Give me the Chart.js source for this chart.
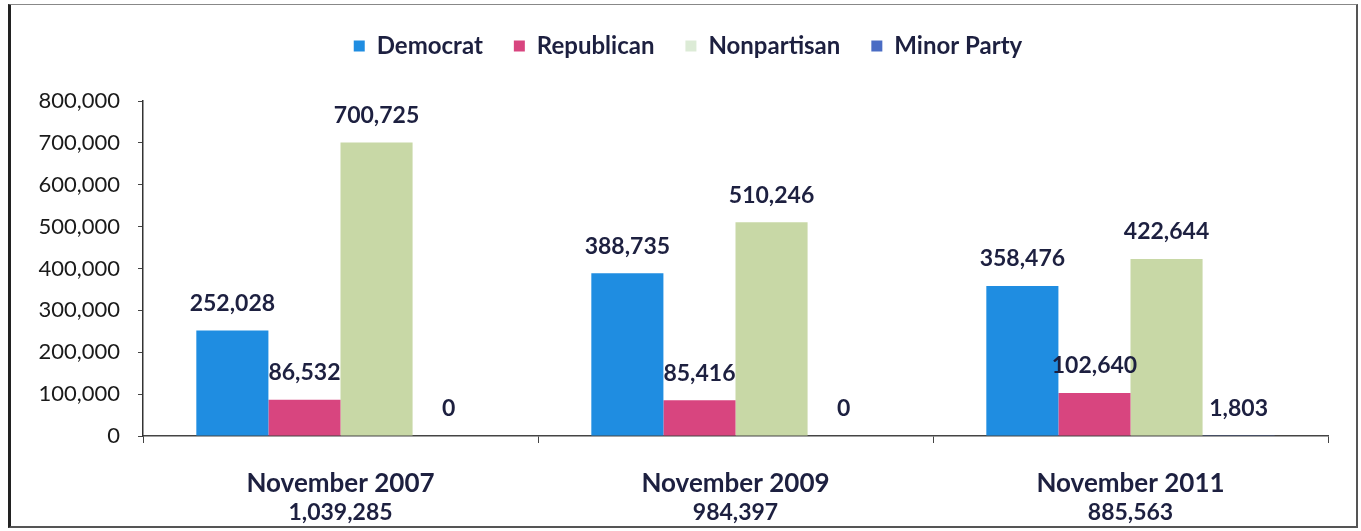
<!DOCTYPE html>
<html>
<head>
<meta charset="utf-8">
<script src="https://cdn.jsdelivr.net/npm/chart.js@4.4.1/dist/chart.umd.min.js"></script>
<style>
  html, body { margin: 0; padding: 0; background: #fff; }
  #wrap { position: relative; width: 1361px; height: 531px; }
  #c { position: absolute; left: 0; top: 0; }
  #frame { position: absolute; left: 8px; top: 4px; width: 1345px; height: 521px;
           border: 2px solid #555; border-left: 3px solid #222; border-top: 1px solid #888;
           pointer-events: none; }
</style>
</head>
<body>
<div id="wrap">
  <canvas id="c" width="1361" height="531"></canvas>
  <div id="frame"></div>
</div>
<script>
const categories = ['November 2007', 'November 2009', 'November 2011'];
const totals = [1039285, 984397, 885563];
const seriesNames = ['Democrat', 'Republican', 'Nonpartisan', 'Minor Party'];
const democrat = [252028, 388735, 358476];
const republican = [86532, 85416, 102640];
const nonpartisan = [700725, 510246, 422644];
const minorParty = [0, 0, 1803];
const yTicks = [0, 100000, 200000, 300000, 400000, 500000, 600000, 700000, 800000];

const colors = ['#1f8de1', '#d8457f', '#c8d8a6', '#4a6cc4'];
const legendColors = ['#1f8de1', '#d8457f', '#dcebd6', '#4a6cc4'];
const textColor = '#1d2040';
const FONT = 'Lato, "Open Sans", sans-serif';
const fmt = v => Number(v).toLocaleString('en-US');

const valueLabels = {
  id: 'valueLabels',
  afterDatasetsDraw(chart) {
    const ctx = chart.ctx;
    ctx.save();
    ctx.font = 'bold 23px ' + FONT;
    ctx.fillStyle = textColor;
    ctx.textAlign = 'center';
    ctx.textBaseline = 'middle';
    chart.data.datasets.forEach((ds, di) => {
      const meta = chart.getDatasetMeta(di);
      meta.data.forEach((el, i) => {
        ctx.fillText(fmt(ds.data[i]), el.x, el.y - 27);
      });
    });
    ctx.restore();
  }
};

const legendSpace = {
  id: 'legendSpace',
  beforeLayout(chart) {
    const lg = chart.legend;
    if (lg && !lg._patched) {
      const f = lg.fit;
      lg.fit = function () { f.call(this); this.height += 33; };
      lg._patched = true;
    }
  },
  afterLayout(chart) {
    const lg = chart.legend;
    if (lg) { lg.left += 24; lg.right += 24; }
  }
};

const datasets = [democrat, republican, nonpartisan, minorParty].map((d, i) => ({
  label: seriesNames[i],
  data: d,
  backgroundColor: colors[i],
  borderWidth: 0,
  categoryPercentage: 0.73,
  barPercentage: 1.0,
  xAxisID: 'x'
}));

new Chart(document.getElementById('c'), {
  type: 'bar',
  data: {
    labels: categories,
    datasets: datasets
  },
  options: {
    responsive: false,
    animation: false,
    devicePixelRatio: 1,
    layout: { padding: { left: 0, right: 33, top: 3, bottom: 0 } },
    plugins: {
      tooltip: { enabled: false },
      legend: {
        position: 'top',
        labels: {
          font: { family: FONT, size: 24, weight: 'bold' },
          color: textColor,
          boxWidth: 11,
          boxHeight: 11,
          padding: 31,
          generateLabels(chart) {
            return chart.data.datasets.map((ds, i) => ({
              text: ds.label,
              fillStyle: legendColors[i],
              strokeStyle: legendColors[i],
              lineWidth: 0,
              fontColor: textColor,
              datasetIndex: i,
              hidden: false
            }));
          }
        }
      }
    },
    scales: {
      x: {
        position: 'bottom',
        afterFit(scale) { scale.height = 63; },
        border: { color: '#444', width: 1.5 },
        grid: { drawOnChartArea: false, drawTicks: true, tickLength: 7, color: '#444', offset: true },
        ticks: {
          color: textColor,
          padding: 25,
          font: { family: FONT, size: 26, weight: 'bold' }
        }
      },
      x2: {
        type: 'category',
        position: 'bottom',
        labels: totals.map(fmt),
        offset: true,
        afterFit(scale) { scale.height = 32; },
        border: { display: false },
        grid: { display: false, drawTicks: false },
        ticks: {
          color: textColor,
          padding: 0,
          font: { family: FONT, size: 23, weight: 'bold' }
        }
      },
      y: {
        min: 0,
        max: 800000,
        afterFit(scale) { scale.width = 143; },
        afterBuildTicks(scale) { scale.ticks = yTicks.map(v => ({ value: v })); },
        border: { color: '#333', width: 1.5 },
        grid: { drawOnChartArea: false, drawTicks: true, tickLength: 5, color: '#444' },
        ticks: {
          color: '#1a1a1a',
          padding: 18,
          font: { family: FONT, size: 22 },
          callback: v => fmt(v)
        }
      }
    }
  },
  plugins: [legendSpace, valueLabels]
});
</script>
</body>
</html>
